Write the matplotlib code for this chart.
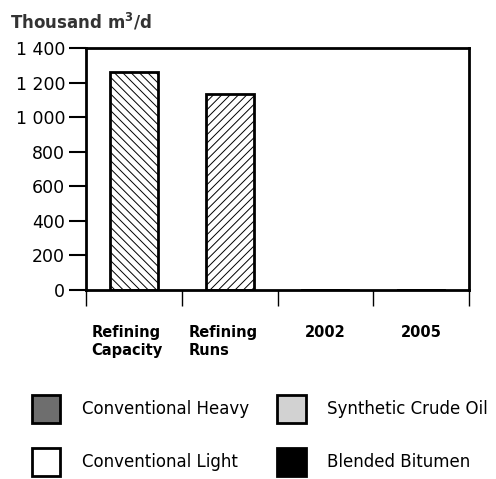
import numpy as np
import matplotlib.pyplot as plt
from matplotlib.patches import Patch

plt.rcParams['font.family'] = ['DejaVu Sans']
plt.rcParams['hatch.linewidth'] = 0.7

# 数据
categories = ['Refining\nCapacity', 'Refining\nRuns', '2002', '2005']
refining = [1260, 1135]          # 前两个柱：炼油能力 / 炼油量
series_names = ['Conventional Heavy', 'Synthetic Crude Oil',
                'Conventional Light', 'Blended Bitumen']
series_colors = ['#6e6e6e', '#d2d2d2', 'white', 'black']
# 2002 / 2005 的堆叠值（图中几乎为零）
conv_heavy = [0, 0]
synthetic = [0, 0]
conv_light = [0, 0]
bitumen = [2, 2]
yticks = [0, 200, 400, 600, 800, 1000, 1200, 1400]

fig = plt.figure(figsize=(4.96, 4.79), dpi=100)
ax = fig.add_axes([0.1734, 0.3946, 0.9456 - 0.1734, 0.8998 - 0.3946])

x = np.arange(len(categories))
w = 0.5
ax.bar(x[0], refining[0], w, color='white', edgecolor='black', linewidth=2, hatch='\\' * 4)
ax.bar(x[1], refining[1], w, color='white', edgecolor='black', linewidth=2, hatch='/' * 4)

bottom = np.zeros(2)
for vals, c in zip([conv_heavy, synthetic, conv_light, bitumen], series_colors):
    ax.bar(x[2:], vals, w, bottom=bottom, color=c, edgecolor='black', linewidth=2)
    bottom += np.array(vals)

ax.set_xlim(-0.5, 3.5)
ax.set_ylim(0, 1400)
ax.set_yticks(yticks)
ax.set_yticklabels([f'{v:,}'.replace(',', ' ') for v in yticks], fontsize=12.5)
ax.set_xticks(np.arange(-0.5, 4, 1))
ax.set_xticklabels([])
ax.tick_params(axis='x', length=11.5, width=1, direction='out')
ax.tick_params(axis='y', length=12, width=1.5, direction='out', pad=3)
for s in ax.spines.values():
    s.set_linewidth(2)

for xi, lab in zip(x, categories):
    dx = -0.07 if '\n' in lab else 0
    ax.text(xi + dx, -200, lab, ha='center', va='top', fontsize=10.5, fontweight='bold',
            linespacing=1.25, multialignment='left', transform=ax.transData)

fig.text(0.02, 0.955, 'Thousand m$^\\mathbf{3}$/d', fontsize=12, fontweight='bold',
         color='#333333', va='center')

handles = [Patch(facecolor=c, edgecolor='black', linewidth=2) for c in series_colors]
order = [0, 2, 1, 3]
fig.legend([handles[i] for i in order], [series_names[i] for i in order],
           ncol=2, loc='upper left', bbox_to_anchor=(0.064, 0.175), frameon=False,
           fontsize=12, handlelength=1.7, handleheight=2.2, handletextpad=1.3,
           labelspacing=1.5, columnspacing=1.7, borderpad=0, borderaxespad=0)

fig.savefig('out.png', dpi=100)
